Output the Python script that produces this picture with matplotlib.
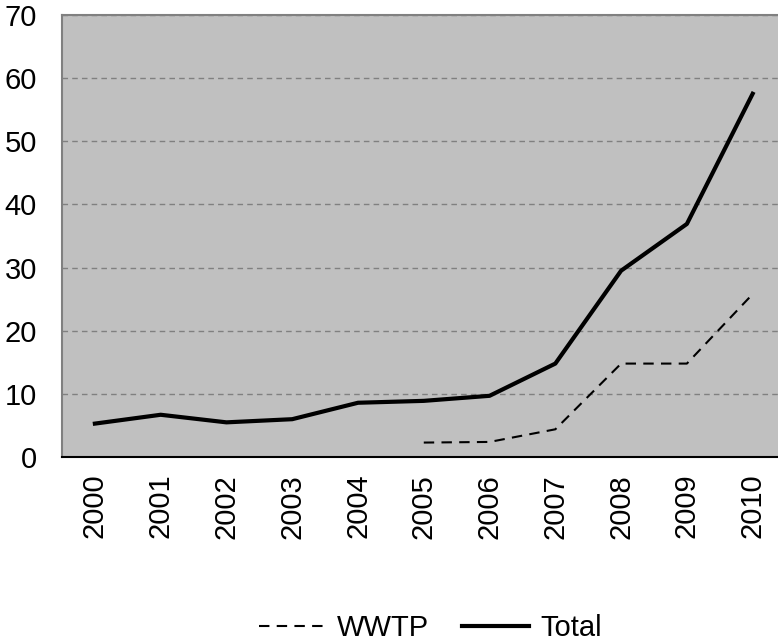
import numpy as np
import matplotlib.pyplot as plt

years = ['2000', '2001', '2002', '2003', '2004', '2005',
         '2006', '2007', '2008', '2009', '2010']
total = [5.3, 6.7, 5.5, 6.0, 8.6, 8.9, 9.7, 14.8, 29.5, 36.9, 57.5]
wwtp = [np.nan, np.nan, np.nan, np.nan, np.nan, 2.3, 2.4, 4.4, 14.8, 14.8, 25.8]

plt.rcParams['font.family'] = ['Liberation Sans', 'DejaVu Sans']

fig = plt.figure(figsize=(7.78, 6.42), dpi=100)
ax = fig.add_axes([0.0797, 0.288, 0.93, 0.689])
x = np.arange(len(years))

ax.set_facecolor('#c0c0c0')
ax.plot(x, wwtp, color='black', lw=1.5, dashes=(5, 3.5), label='WWTP')
ax.plot(x, total, color='black', lw=3, label='Total')

ax.set_xlim(-0.5, len(years) - 0.5)
ax.set_ylim(0, 70)
ax.set_yticks(range(0, 71, 10))
ax.set_xticks(x)
ax.set_xticklabels(years, rotation=90)
ax.tick_params(axis='y', length=0, pad=18, labelsize=21)
ax.tick_params(axis='x', length=0, pad=12, labelsize=21)
ax.yaxis.grid(True, color='#808080', linestyle=(0, (4, 3)), lw=1)
ax.set_axisbelow(True)

for s in ['left', 'top', 'right']:
    ax.spines[s].set_color('#808080')
    ax.spines[s].set_linewidth(1.5)
ax.spines['bottom'].set_color('black')
ax.spines['bottom'].set_linewidth(1.5)

fig.legend(loc='center', bbox_to_anchor=(0.553, 0.022), ncol=2, frameon=False,
           fontsize=21, handlelength=2.3, handletextpad=0.4, columnspacing=1.1)

fig.savefig('out.png', dpi=100)
